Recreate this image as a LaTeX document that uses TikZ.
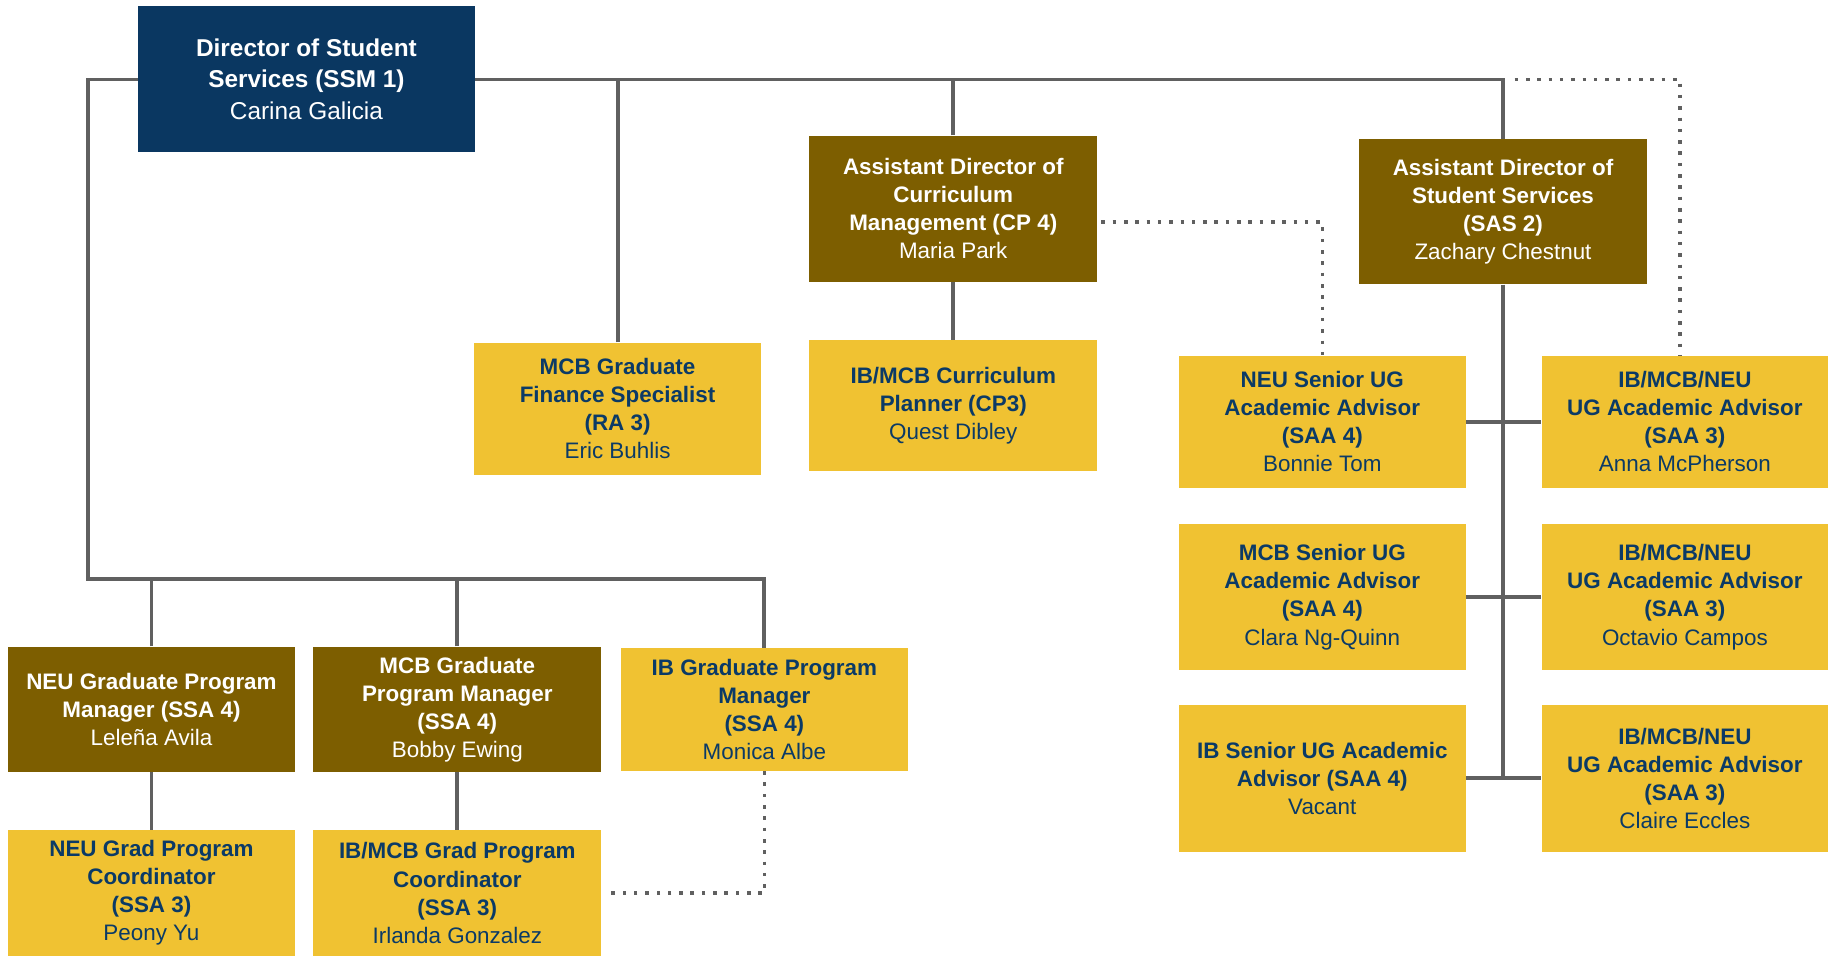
\documentclass[tikz,border=0pt]{standalone}
\usepackage{fontspec}
\setmainfont{Liberation Sans}
\definecolor{brandnavy}{HTML}{0A3761}
\definecolor{brandolive}{HTML}{7D5E00}
\definecolor{brandgold}{HTML}{F0C232}
\definecolor{inknavy}{HTML}{0B3A66}
\definecolor{wiregray}{HTML}{606060}
\tikzset{
    box/.style={rectangle, inner sep=0pt, minimum width=147.6pt, minimum height=67.8pt, align=center, font=\fontsize{11.5}{14.4}\selectfont\bfseries},
    head/.style={box, fill=brandnavy, text=white, minimum width=172.8pt, minimum height=75pt, font=\fontsize{12.5}{16.2}\selectfont\bfseries},
    lead/.style={box, fill=brandolive, text=white},
    staff/.style={box, fill=brandgold, text=inknavy},
    edge/.style={draw=wiregray, line width=2pt},
    dotedge/.style={draw=wiregray, line width=1.8pt, dash pattern=on 1.8pt off 4pt},
}

\begin{document}
\begin{tikzpicture}[x=0.6pt, y=-0.6pt]
\useasboundingbox (0,0) rectangle (1568,817.4);
% top row
\node[head] (dir) at (262,67.5) {Director of Student\\Services (SSM 1)\\\textmd{Carina Galicia}};
\node[staff] (fin) at (528,349.5) {MCB Graduate\\Finance Specialist\\(RA 3)\\\textmd{Eric Buhlis}};
\node[lead, minimum height=75pt] (cp4) at (815,178.5) {Assistant Director of\\Curriculum\\Management (CP 4)\\\textmd{Maria Park}};
\node[staff, minimum height=67.2pt] (cp3) at (815,347) {IB/MCB Curriculum\\Planner (CP3)\\\textmd{Quest Dibley}};
\node[lead, minimum height=74.4pt] (sas) at (1285,181) {Assistant Director of\\Student Services\\(SAS 2)\\\textmd{Zachary Chestnut}};
% undergraduate advisors
\node[staff, minimum width=147pt] (neusr) at (1130.5,360.5) {NEU Senior UG\\Academic Advisor\\(SAA 4)\\\textmd{Bonnie Tom}};
\node[staff, minimum width=147pt] (ug1) at (1440.5,360.5) {IB/MCB/NEU\\UG Academic Advisor\\(SAA 3)\\\textmd{Anna McPherson}};
\node[staff, minimum width=147pt, minimum height=75pt] (mcbsr) at (1130.5,510.5) {MCB Senior UG\\Academic Advisor\\(SAA 4)\\\textmd{Clara Ng-Quinn}};
\node[staff, minimum width=147pt, minimum height=75pt] (ug2) at (1440.5,510.5) {IB/MCB/NEU\\UG Academic Advisor\\(SAA 3)\\\textmd{Octavio Campos}};
\node[staff, minimum width=147pt, minimum height=75pt] (ibsr) at (1130.5,665.5) {IB Senior UG Academic\\Advisor (SAA 4)\\\textmd{Vacant}};
\node[staff, minimum width=147pt, minimum height=75pt] (ug3) at (1440.5,665.5) {IB/MCB/NEU\\UG Academic Advisor\\(SAA 3)\\\textmd{Claire Eccles}};
% graduate programs
\node[lead, minimum width=147pt, minimum height=64.2pt] (neugpm) at (129.5,606.5) {NEU Graduate Program\\Manager (SSA 4)\\\textmd{Leleña Avila}};
\node[lead, minimum height=64.2pt] (mcbgpm) at (391,606.5) {MCB Graduate\\Program Manager\\(SSA 4)\\\textmd{Bobby Ewing}};
\node[staff, minimum width=147pt, minimum height=63pt] (ibgpm) at (653.5,606.5) {IB Graduate Program\\Manager\\(SSA 4)\\\textmd{Monica Albe}};
\node[staff, minimum width=147pt, minimum height=64.2pt] (neugpc) at (129.5,763.5) {NEU Grad Program\\Coordinator\\(SSA 3)\\\textmd{Peony Yu}};
\node[staff, minimum height=64.2pt] (ibgpc) at (391,763.5) {IB/MCB Grad Program\\Coordinator\\(SSA 3)\\\textmd{Irlanda Gonzalez}};

\coordinate (bus) at (0,68);
\coordinate (lowbus) at (75,495);
\draw[edge] (dir.east |- bus) -| (sas.north);
\draw[edge] (fin.north) -- (fin.north |- bus);
\draw[edge] (cp4.north) -- (cp4.north |- bus);
\draw[edge] (cp4.south) -- (cp3.north);
\draw[edge] (dir.west |- bus) -| (lowbus) -| (ibgpm.north);
\draw[edge] (neugpm.north) -- (neugpm.north |- lowbus);
\draw[edge] (mcbgpm.north) -- (mcbgpm.north |- lowbus);
\draw[edge] (neugpm.south) -- (neugpc.north);
\draw[edge] (mcbgpm.south) -- (ibgpc.north);
\draw[edge] (sas.south) -- (sas.south |- ibsr.east);
\draw[edge] (neusr.east) -- (ug1.west);
\draw[edge] (mcbsr.east) -- (ug2.west);
\draw[edge] (ibsr.east) -- (ug3.west);
% dotted lines
\draw[dotedge] ([xshift=6pt]sas.north |- bus) -| ([xshift=-2.4pt]ug1.north);
\draw[dotedge] ([yshift=-6.9pt, xshift=2pt]cp4.east) -| (neusr.north);
\draw[dotedge] (ibgpm.south) |- ([xshift=4.8pt]ibgpc.east);
\end{tikzpicture}
\end{document}
